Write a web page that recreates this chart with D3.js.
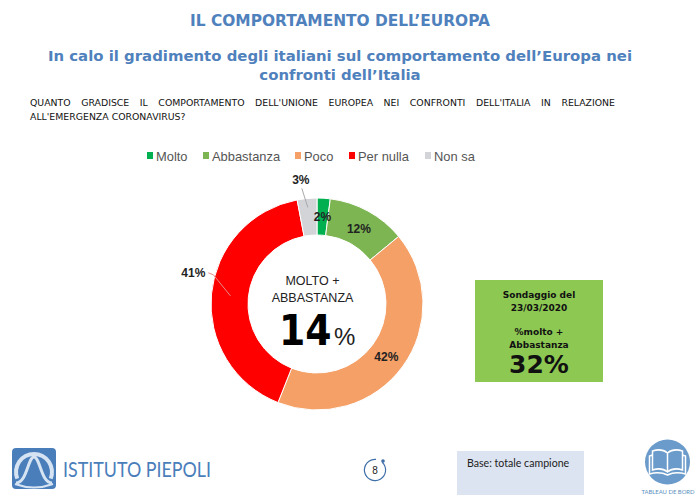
<!DOCTYPE html>
<html>
<head>
<meta charset="utf-8">
<script src="https://cdn.jsdelivr.net/npm/d3@7"></script>
<style>
    html, body { margin: 0; padding: 0; background: #fff; }
    svg { display: block; }
</style>
</head>
<body>
<div id="chart"></div>
<script>
// chart values
var categories = ["Molto", "Abbastanza", "Poco", "Per nulla", "Non sa"];
var shares = [2, 12, 42, 41, 3];
var sliceColors = ["#00b050", "#7cb552", "#f4a066", "#ff0000", "#d2d4d8"];
var previousShare = 32;
var centerShare = 14;

var width = 700,
    height = 495;

var svg = d3.select("#chart")
    .append("svg")
    .attr("width", width)
    .attr("height", height);

var titleBlue = "#4f81bd",
    textFont = "'DejaVu Sans', sans-serif",
    legendFont = "'Liberation Sans', sans-serif";

function addText(x, y, str, size, opts) {
    opts = opts || {};
    return svg.append("text")
        .attr("x", x)
        .attr("y", y)
        .attr("text-anchor", opts.anchor || "start")
        .attr("font-family", opts.font || textFont)
        .attr("font-size", size)
        .attr("font-weight", opts.weight || "normal")
        .attr("fill", opts.fill || "#111")
        .text(str);
}

/*
Headings
*/
addText(340, 26, "IL COMPORTAMENTO DELL’EUROPA", 15.4, {anchor: "middle", weight: "bold", fill: titleBlue});
addText(340, 61, "In calo il gradimento degli italiani sul comportamento dell’Europa nei", 14.9, {anchor: "middle", weight: "bold", fill: titleBlue});
addText(340, 80, "confronti dell’Italia", 14.9, {anchor: "middle", weight: "bold", fill: titleBlue});

// the first line of the question is justified, so stretch the word gaps
var questionLine = addText(30, 106, "QUANTO GRADISCE IL COMPORTAMENTO DELL'UNIONE EUROPEA NEI CONFRONTI DELL'ITALIA IN RELAZIONE", 9.35);
var gapCount = questionLine.text().split(" ").length - 1;
questionLine.attr("word-spacing", (585 - questionLine.node().getComputedTextLength()) / gapCount);
addText(30, 120, "ALL'EMERGENZA CORONAVIRUS?", 9.35);

/*
Legend
*/
var legendX = d3.scaleOrdinal()
    .domain(categories)
    .range([147, 203, 295, 349, 425]);

var legend = svg.selectAll(".legend-item")
    .data(categories)
    .enter()
    .append("g")
    .attr("class", "legend-item")
    .attr("transform", function(d) { return "translate(" + legendX(d) + ",156)"; });
legend.append("rect")
    .attr("x", 0)
    .attr("y", -4)
    .attr("width", 6)
    .attr("height", 7)
    .attr("fill", function(d, i) { return sliceColors[i]; });
legend.append("text")
    .attr("x", 9)
    .attr("y", 5)
    .attr("font-family", legendFont)
    .attr("font-size", 12.9)
    .attr("fill", "#555")
    .text(function(d) { return d; });

/*
Donut
*/
var cx = 317,
    cy = 304,
    outerR = 106,
    innerR = 69,
    labelR = 87;

var pie = d3.pie().sort(null).value(function(d) { return d; });
var arc = d3.arc().innerRadius(innerR).outerRadius(outerR);
var labelArc = d3.arc().innerRadius(labelR).outerRadius(labelR);
var slices = pie(shares);

var donut = svg.append("g").attr("transform", "translate(" + cx + "," + cy + ")");
donut.selectAll("path")
    .data(slices)
    .enter()
    .append("path")
    .attr("d", arc)
    .attr("fill", function(d, i) { return sliceColors[i]; })
    .attr("stroke", "#fff")
    .attr("stroke-width", 1);

// Per nulla and Non sa have their labels pulled out of the ring, with a leader line
var labelShift = {1: [0, 1], 2: [-1, 2], 3: [-37, -23], 4: [-8, -38]};

donut.selectAll(".leader")
    .data(slices.filter(function(d) { return d.index >= 3; }))
    .enter()
    .append("polyline")
    .attr("class", "leader")
    .attr("fill", "none")
    .attr("stroke", function(d) { return d.index === 3 ? "#e58a8a" : "#a9a9a9"; })
    .attr("points", function(d) {
        var c = labelArc.centroid(d);
        if (d.index === 3) {
            return [[c[0], c[1]], [c[0] - 17, c[1] - 21], [c[0] - 22, c[1] - 23]].join(" ");
        }
        return [[c[0] - 1, c[1] - 10], [c[0] - 7, c[1] - 29]].join(" ");
    });

donut.selectAll(".slice-label")
    .data(slices)
    .enter()
    .append("text")
    .attr("class", "slice-label")
    .attr("transform", function(d) {
        var c = labelArc.centroid(d),
            s = labelShift[d.index] || [0, 0];
        return "translate(" + (c[0] + s[0]) + "," + (c[1] + s[1]) + ")";
    })
    .attr("text-anchor", "middle")
    .attr("dy", "0.35em")
    .attr("font-family", legendFont)
    .attr("font-weight", "bold")
    .attr("font-size", 12)
    .attr("fill", "#222")
    .text(function(d) { return d.value + "%"; });

// centre of the ring
addText(312.5, 285, "MOLTO +", 12.5, {anchor: "middle", font: legendFont, fill: "#222"});
addText(312.5, 302, "ABBASTANZA", 12.5, {anchor: "middle", font: legendFont, fill: "#222"});
addText(279, 345, centerShare, 42, {font: "'DejaVu Sans Condensed', 'DejaVu Sans', sans-serif", weight: "bold", fill: "#000"});
addText(334, 345, "%", 24, {font: legendFont, fill: "#222"});

/*
Previous survey box
*/
svg.append("rect")
    .attr("x", 475)
    .attr("y", 280)
    .attr("width", 128)
    .attr("height", 102)
    .attr("fill", "#8dc853");

addText(539, 298, "Sondaggio del", 9, {anchor: "middle", weight: "bold"});
addText(539, 311, "23/03/2020", 9, {anchor: "middle", weight: "bold"});
addText(539, 335, "%molto +", 9, {anchor: "middle", weight: "bold"});
addText(539, 348, "Abbastanza", 9, {anchor: "middle", weight: "bold"});
addText(539, 373, previousShare + "%", 25, {anchor: "middle", weight: "bold"});

/*
Footer: logo, page number, base note, book icon
*/
var logo = svg.append("g");
logo.append("rect")
    .attr("x", 12)
    .attr("y", 448)
    .attr("width", 44)
    .attr("height", 41)
    .attr("rx", 4)
    .attr("fill", "#4a7ebb");
logo.append("path")
    .attr("d", d3.arc().innerRadius(16).outerRadius(20).startAngle(-Math.PI * 0.62).endAngle(Math.PI * 0.62)())
    .attr("transform", "translate(34,472)")
    .attr("fill", "#d5e3f2");
logo.append("path")
    .attr("d", "M16 483 C27 483 28 457 34 457 C40 457 41 483 52 483")
    .attr("fill", "none")
    .attr("stroke", "#d5e3f2")
    .attr("stroke-width", 3);
logo.append("path")
    .attr("d", "M15 484 Q34 491 53 484")
    .attr("fill", "none")
    .attr("stroke", "#d5e3f2")
    .attr("stroke-width", 2);
addText(63, 477, "ISTITUTO PIEPOLI", 20.5, {font: "Lato, sans-serif", fill: "#4a7ebb"})
    .attr("textLength", 148)
    .attr("lengthAdjust", "spacingAndGlyphs");

svg.append("path")
    .attr("d", d3.arc().innerRadius(10).outerRadius(11.2).startAngle(0.75).endAngle(Math.PI * 2 + 0.1)())
    .attr("transform", "translate(375,470)")
    .attr("fill", "#3f6fa8");
svg.append("circle")
    .attr("cx", 383)
    .attr("cy", 461)
    .attr("r", 1.8)
    .attr("fill", "#3f6fa8");
addText(375, 474, "8", 10, {anchor: "middle", font: legendFont, fill: "#222"});

svg.append("rect")
    .attr("x", 457)
    .attr("y", 451)
    .attr("width", 127)
    .attr("height", 44)
    .attr("fill", "#dce4f1");
addText(467, 467, "Base: totale campione", 10.6, {font: "Lato, sans-serif", fill: "#222"});

var book = svg.append("g").attr("transform", "translate(667.5,462)");
book.append("circle")
    .attr("r", 22.5)
    .attr("fill", "#6a9bca");
book.append("path")
    .attr("d", "M-15 -11 Q-6 -14 0 -9 Q6 -14 15 -11 L15 8 Q6 5 0 10 Q-6 5 -15 8 Z M0 -9 L0 10 M-15 -7 L-18 -6 L-18 12 Q-8 9 0 13 Q8 9 18 12 L18 -6 L15 -7")
    .attr("fill", "none")
    .attr("stroke", "#fff")
    .attr("stroke-width", 1.5);
addText(668, 494, "TABLEAU DE BORD", 5.9, {anchor: "middle", font: "Lato, sans-serif", fill: "#5b8fc0"});
</script>
</body>
</html>
